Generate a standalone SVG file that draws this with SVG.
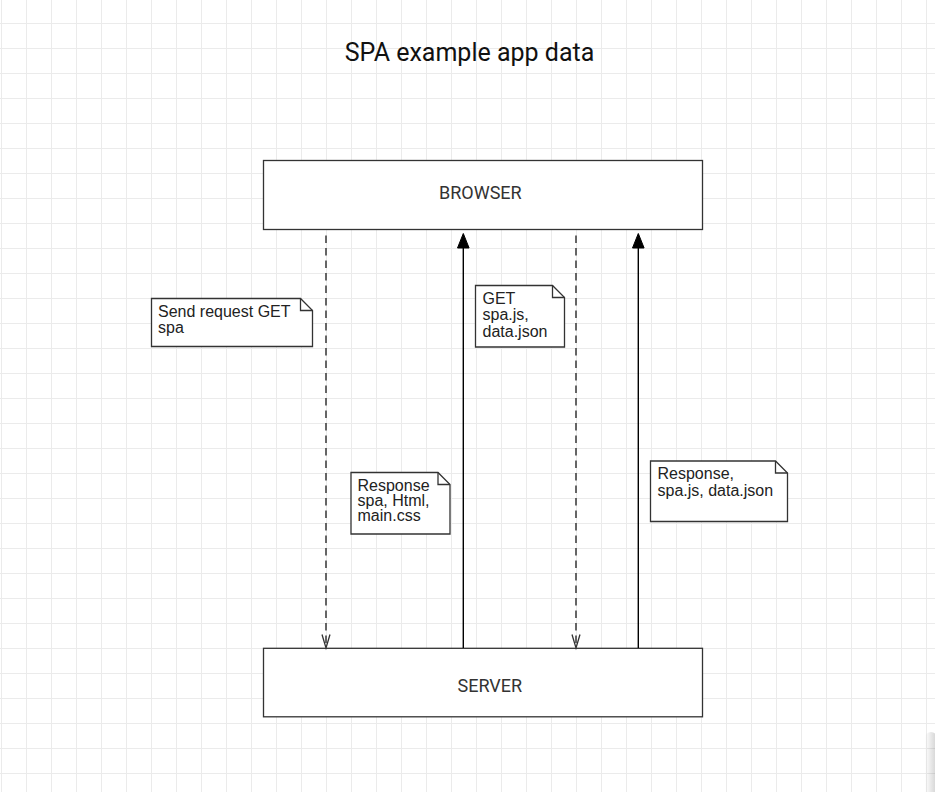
<svg xmlns="http://www.w3.org/2000/svg" width="935" height="792" viewBox="0 0 935 792">
  <style>
    .box { fill: #ffffff; stroke: #333333; stroke-width: 1.3; }
    .boxlabel { font-family: Roboto, "Liberation Sans", sans-serif; font-size: 18px; fill: #333333; }
    .note { fill: #ffffff; stroke: #333333; stroke-width: 1.3; stroke-linejoin: miter; }
    .fold { fill: none; stroke: #333333; stroke-width: 1.3; }
    .notetext { font-family: "Liberation Sans", Arial, sans-serif; font-size: 16px; fill: #222222; }
    .dashed { stroke: #4d4d4d; stroke-width: 1.7; stroke-dasharray: 7.5 5; fill: none; }
    .solid { stroke: #000000; stroke-width: 1.4; fill: none; }
    .openhead { stroke: #333333; stroke-width: 1.3; fill: none; }
    .filledhead { fill: #000000; stroke: #000000; stroke-width: 1; }
  </style>
  <defs>
    <pattern id="grid" patternUnits="userSpaceOnUse" x="1" y="23" width="25" height="25">
      <path d="M0 0.5 H25 M0.5 0 V25" stroke="#ebebeb" stroke-width="1" fill="none"/>
    </pattern>
    <linearGradient id="shadow" x1="0" y1="0" x2="1" y2="0">
      <stop offset="0" stop-color="#000000" stop-opacity="0"/>
      <stop offset="1" stop-color="#000000" stop-opacity="0.18"/>
    </linearGradient>
  </defs>

  <rect x="0" y="0" width="935" height="792" fill="#ffffff"/>
  <rect x="0" y="0" width="935" height="792" fill="url(#grid)"/>
  <rect x="925" y="732" width="12" height="70" rx="6" fill="url(#shadow)"/>

  <text id="title" x="469.5" y="61" text-anchor="middle" font-family="Roboto, 'Liberation Sans', sans-serif" font-size="25" fill="#111111">SPA example app data</text>

  <g id="browser">
    <rect class="box" x="263.5" y="160.5" width="439" height="69"/>
    <text class="boxlabel" x="439" y="199.3">BROWSER</text>
  </g>

  <g id="server">
    <rect class="box" x="263.5" y="648.3" width="439" height="68.5"/>
    <text class="boxlabel" x="457.5" y="692.3">SERVER</text>
  </g>

  <g id="connectors">
    <line class="dashed" x1="326" y1="235.5" x2="326" y2="647"/>
    <polyline class="openhead" points="322,634.5 326,648 330,634.5"/>

    <line class="solid" x1="463.3" y1="648" x2="463.3" y2="246"/>
    <polygon class="filledhead" points="463.3,233.5 457.5,248 469.1,248"/>

    <line class="dashed" x1="576" y1="235.5" x2="576" y2="647"/>
    <polyline class="openhead" points="572,634.5 576,648 580,634.5"/>

    <line class="solid" x1="638.3" y1="648" x2="638.3" y2="246"/>
    <polygon class="filledhead" points="638.3,233.5 632.5,248 644.1,248"/>
  </g>

  <g id="note-send-request">
    <path class="note" d="M151.5 298.5 H300.5 L312.5 310.5 V346.5 H151.5 Z"/>
    <path class="fold" d="M300.5 298.5 V310.5 H312.5"/>
    <text class="notetext"><tspan x="158" y="317">Send request GET</tspan><tspan x="158" y="333">spa</tspan></text>
  </g>

  <g id="note-get-spajs">
    <path class="note" d="M475.5 285.5 H552.5 L564.5 297.5 V347 H475.5 Z"/>
    <path class="fold" d="M552.5 285.5 V297.5 H564.5"/>
    <text class="notetext"><tspan x="482.5" y="303.5">GET</tspan><tspan x="482.5" y="320">spa.js,</tspan><tspan x="482.5" y="336.5">data.json</tspan></text>
  </g>

  <g id="note-response-spa">
    <path class="note" d="M351 472.5 H438 L450 484.5 V534 H351 Z"/>
    <path class="fold" d="M438 472.5 V484.5 H450"/>
    <text class="notetext" font-size="14.5"><tspan x="357.5" y="491">Response</tspan><tspan x="357.5" y="506">spa, Html,</tspan><tspan x="357.5" y="521">main.css</tspan></text>
  </g>

  <g id="note-response-spajs">
    <path class="note" d="M650.5 461 H775.5 L787.5 473 V521.5 H650.5 Z"/>
    <path class="fold" d="M775.5 461 V473 H787.5"/>
    <text class="notetext"><tspan x="657.5" y="478.5">Response,</tspan><tspan x="657.5" y="496">spa.js, data.json</tspan></text>
  </g>
</svg>
